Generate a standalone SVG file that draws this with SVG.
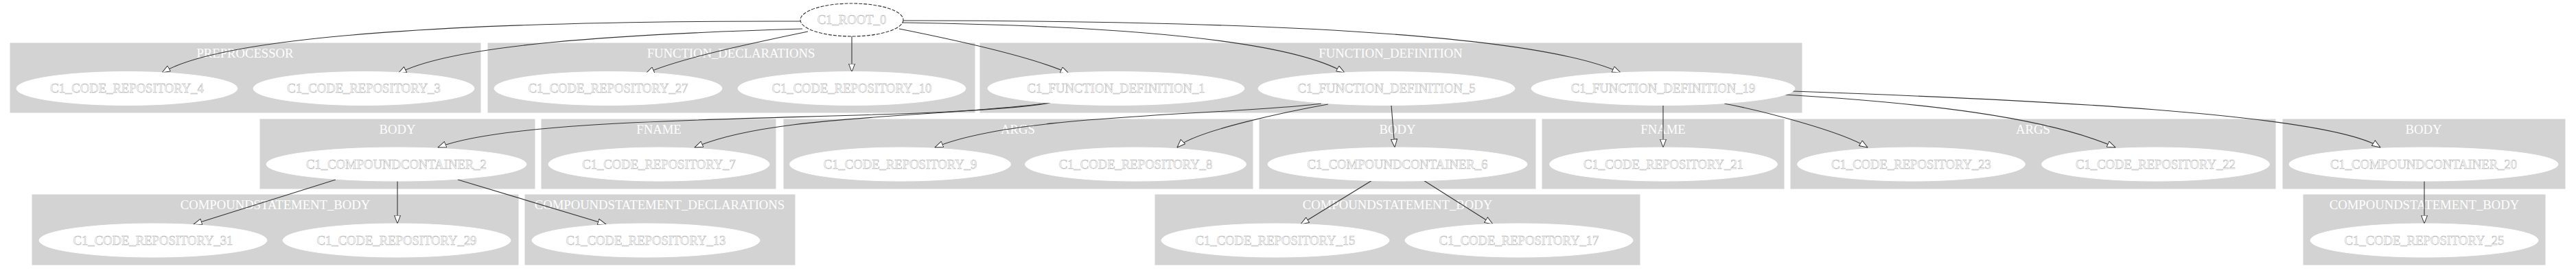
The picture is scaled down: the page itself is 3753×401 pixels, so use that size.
<svg xmlns="http://www.w3.org/2000/svg" width="3753" height="401" viewBox="0 0 3753 401">
<style>
.cl{fill:#d3d3d3;stroke:#d3d3d3}
.cll{font-family:"Liberation Serif","Times New Roman",serif;font-size:18.67px;fill:#fff;text-anchor:middle}
.nd{fill:#fff;stroke:#fff}
.nt{font-family:"Liberation Serif","Times New Roman",serif;font-size:18.67px;fill:#fff;stroke:#b0b0b0;stroke-width:0.5;text-anchor:middle}
.e{fill:none;stroke:#333;stroke-width:1.1}
</style>
<defs>
<marker id="ah" viewBox="0 0 13 10" refX="12.5" refY="5" markerWidth="13" markerHeight="10" markerUnits="userSpaceOnUse" orient="auto">
<path d="M0.5,0.5 L12.5,5 L0.5,9.5 Z" fill="#fff" stroke="#333" stroke-width="1"/>
</marker>
</defs>
<rect width="3753" height="401" fill="#fff"/>
<g id="clusters">
<g id="cl_preprocessor"><rect class="cl" x="15" y="63" width="685" height="101"/><text class="cll" x="357" y="84">PREPROCESSOR</text></g>
<g id="cl_fdecl"><rect class="cl" x="711" y="63" width="709" height="101"/><text class="cll" x="1065" y="84">FUNCTION_DECLARATIONS</text></g>
<g id="cl_fdef"><rect class="cl" x="1428" y="63" width="1197" height="101"/><text class="cll" x="2026" y="84">FUNCTION_DEFINITION</text></g>
<g id="cl_body1"><rect class="cl" x="379" y="174" width="400" height="101"/><text class="cll" x="579" y="195">BODY</text></g>
<g id="cl_fname1"><rect class="cl" x="789" y="174" width="341" height="101"/><text class="cll" x="960" y="195">FNAME</text></g>
<g id="cl_args1"><rect class="cl" x="1142" y="174" width="683" height="101"/><text class="cll" x="1483" y="195">ARGS</text></g>
<g id="cl_body2"><rect class="cl" x="1835" y="174" width="402" height="101"/><text class="cll" x="2036" y="195">BODY</text></g>
<g id="cl_fname2"><rect class="cl" x="2247" y="174" width="352" height="101"/><text class="cll" x="2423" y="195">FNAME</text></g>
<g id="cl_args2"><rect class="cl" x="2609" y="174" width="706" height="101"/><text class="cll" x="2962" y="195">ARGS</text></g>
<g id="cl_body3"><rect class="cl" x="3326" y="174" width="411" height="101"/><text class="cll" x="3531" y="195">BODY</text></g>
<g id="cl_csb1"><rect class="cl" x="47" y="284" width="708" height="102"/><text class="cll" x="401" y="305">COMPOUNDSTATEMENT_BODY</text></g>
<g id="cl_csd1"><rect class="cl" x="765" y="284" width="393" height="102"/><text class="cll" x="961" y="305">COMPOUNDSTATEMENT_DECLARATIONS</text></g>
<g id="cl_csb2"><rect class="cl" x="1683" y="284" width="706" height="102"/><text class="cll" x="2036" y="305">COMPOUNDSTATEMENT_BODY</text></g>
<g id="cl_csb3"><rect class="cl" x="3356" y="284" width="352" height="102"/><text class="cll" x="3532" y="305">COMPOUNDSTATEMENT_BODY</text></g>
</g>
<g id="connectors">
<path class="e" marker-end="url(#ah)" d="M1167,31 C700,30 330,50 236,106"/>
<path class="e" marker-end="url(#ah)" d="M1169,42 C900,50 660,65 580,107"/>
<path class="e" marker-end="url(#ah)" d="M1177,46 C1100,62 990,85 941,107"/>
<path class="e" marker-end="url(#ah)" d="M1241,53 L1241,105"/>
<path class="e" marker-end="url(#ah)" d="M1310,42 C1400,60 1510,85 1557,107"/>
<path class="e" marker-end="url(#ah)" d="M1315,33 C1650,38 1880,60 1959,106"/>
<path class="e" marker-end="url(#ah)" d="M1316,30 C1900,30 2250,55 2361,106"/>
<path class="e" marker-end="url(#ah)" d="M1530,150 C1350,180 780,160 638,215"/>
<path class="e" marker-end="url(#ah)" d="M1522,151 C1350,172 1120,168 1012,215"/>
<path class="e" marker-end="url(#ah)" d="M1925,151 C1800,168 1480,165 1362,215"/>
<path class="e" marker-end="url(#ah)" d="M1935,152 C1890,160 1740,190 1715,215"/>
<path class="e" marker-end="url(#ah)" d="M2027,153.5 L2032,215"/>
<path class="e" marker-end="url(#ah)" d="M2423,153.5 L2423,215"/>
<path class="e" marker-end="url(#ah)" d="M2512,151 C2560,160 2680,190 2721,215"/>
<path class="e" marker-end="url(#ah)" d="M2600,138 C2800,150 2980,170 3082,215"/>
<path class="e" marker-end="url(#ah)" d="M2612,133 C2950,145 3390,165 3468,215"/>
<path class="e" marker-end="url(#ah)" d="M489,262 L282,327"/>
<path class="e" marker-end="url(#ah)" d="M579,264 L579,326"/>
<path class="e" marker-end="url(#ah)" d="M667,262 L883,327"/>
<path class="e" marker-end="url(#ah)" d="M1999,263 L1895,327"/>
<path class="e" marker-end="url(#ah)" d="M2074,263 L2175,327"/>
<path class="e" marker-end="url(#ah)" d="M3532,264 L3532,326"/>
</g>
<g id="nodes">
<g id="n0"><ellipse cx="1241" cy="29" rx="75" ry="24" fill="#fff" stroke="#333" stroke-width="1.1" stroke-dasharray="5,2"/><text class="nt" x="1241" y="35">C1_ROOT_0</text></g>
<g id="n4"><ellipse class="nd" cx="185" cy="129" rx="161" ry="24.5"/><text class="nt" x="185" y="135">C1_CODE_REPOSITORY_4</text></g>
<g id="n3"><ellipse class="nd" cx="530" cy="129" rx="161" ry="24.5"/><text class="nt" x="530" y="135">C1_CODE_REPOSITORY_3</text></g>
<g id="n27"><ellipse class="nd" cx="886" cy="129" rx="166" ry="24.5"/><text class="nt" x="886" y="135">C1_CODE_REPOSITORY_27</text></g>
<g id="n10"><ellipse class="nd" cx="1241" cy="129" rx="166" ry="24.5"/><text class="nt" x="1241" y="135">C1_CODE_REPOSITORY_10</text></g>
<g id="n1"><ellipse class="nd" cx="1626" cy="129" rx="187" ry="24.5"/><text class="nt" x="1626" y="135">C1_FUNCTION_DEFINITION_1</text></g>
<g id="n5"><ellipse class="nd" cx="2020" cy="129" rx="187" ry="24.5"/><text class="nt" x="2020" y="135">C1_FUNCTION_DEFINITION_5</text></g>
<g id="n19"><ellipse class="nd" cx="2423" cy="129" rx="192" ry="24.5"/><text class="nt" x="2423" y="135">C1_FUNCTION_DEFINITION_19</text></g>
<g id="n2"><ellipse class="nd" cx="577.5" cy="239.5" rx="189.5" ry="24.5"/><text class="nt" x="577.5" y="245.5">C1_COMPOUNDCONTAINER_2</text></g>
<g id="n7"><ellipse class="nd" cx="960" cy="239.5" rx="161" ry="24.5"/><text class="nt" x="960" y="245.5">C1_CODE_REPOSITORY_7</text></g>
<g id="n9"><ellipse class="nd" cx="1311.5" cy="239.5" rx="161" ry="24.5"/><text class="nt" x="1311.5" y="245.5">C1_CODE_REPOSITORY_9</text></g>
<g id="n8"><ellipse class="nd" cx="1654.5" cy="239.5" rx="161" ry="24.5"/><text class="nt" x="1654.5" y="245.5">C1_CODE_REPOSITORY_8</text></g>
<g id="n6"><ellipse class="nd" cx="2036" cy="239.5" rx="189" ry="24.5"/><text class="nt" x="2036" y="245.5">C1_COMPOUNDCONTAINER_6</text></g>
<g id="n21"><ellipse class="nd" cx="2423.5" cy="239.5" rx="166" ry="24.5"/><text class="nt" x="2423.5" y="245.5">C1_CODE_REPOSITORY_21</text></g>
<g id="n23"><ellipse class="nd" cx="2784.5" cy="239.5" rx="166" ry="24.5"/><text class="nt" x="2784.5" y="245.5">C1_CODE_REPOSITORY_23</text></g>
<g id="n22"><ellipse class="nd" cx="3140.5" cy="239.5" rx="166" ry="24.5"/><text class="nt" x="3140.5" y="245.5">C1_CODE_REPOSITORY_22</text></g>
<g id="n20"><ellipse class="nd" cx="3531" cy="239.5" rx="196" ry="24.5"/><text class="nt" x="3531" y="245.5">C1_COMPOUNDCONTAINER_20</text></g>
<g id="n31"><ellipse class="nd" cx="223" cy="350.5" rx="166" ry="24.5"/><text class="nt" x="223" y="356.5">C1_CODE_REPOSITORY_31</text></g>
<g id="n29"><ellipse class="nd" cx="578" cy="350.5" rx="166" ry="24.5"/><text class="nt" x="578" y="356.5">C1_CODE_REPOSITORY_29</text></g>
<g id="n13"><ellipse class="nd" cx="941" cy="350.5" rx="166" ry="24.5"/><text class="nt" x="941" y="356.5">C1_CODE_REPOSITORY_13</text></g>
<g id="n15"><ellipse class="nd" cx="1858" cy="350.5" rx="166" ry="24.5"/><text class="nt" x="1858" y="356.5">C1_CODE_REPOSITORY_15</text></g>
<g id="n17"><ellipse class="nd" cx="2213" cy="350.5" rx="166" ry="24.5"/><text class="nt" x="2213" y="356.5">C1_CODE_REPOSITORY_17</text></g>
<g id="n25"><ellipse class="nd" cx="3532" cy="350.5" rx="166" ry="24.5"/><text class="nt" x="3532" y="356.5">C1_CODE_REPOSITORY_25</text></g>
</g>
</svg>
